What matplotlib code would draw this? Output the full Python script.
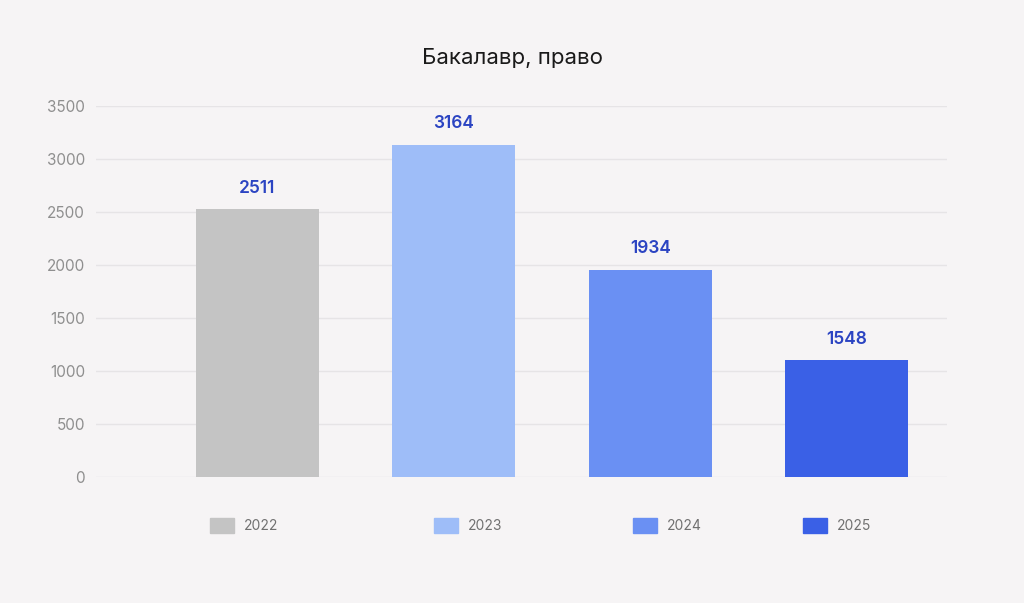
import matplotlib.pyplot as plt
import numpy as np
from matplotlib.patches import Rectangle

# Values
years = ['2022', '2023', '2024', '2025']
bar_heights = [2525, 3135, 1955, 1105]
value_labels = ['2511', '3164', '1934', '1548']
colors = ['#c4c4c4', '#9ebdf8', '#6a90f3', '#3a60e6']
title = 'Бакалавр, право'

plt.rcParams['font.family'] = ['Inter', 'DejaVu Sans']

W, H = 1024, 603
fig = plt.figure(figsize=(W / 100, H / 100), dpi=100)
fig.patch.set_facecolor('#f6f4f5')

# axes box in pixels: x 96..947, y 106..477 (from top)
ax = fig.add_axes([96 / W, 1 - 477 / H, (947 - 96) / W, (477 - 106) / H])
ax.set_facecolor('#f6f4f5')

x = np.arange(len(years))
ax.bar(x, bar_heights, width=0.625, color=colors, zorder=3)

for xi, h, lab in zip(x, bar_heights, value_labels):
    ax.annotate(lab, (xi, h), xytext=(0, 15), textcoords='offset points',
                ha='center', va='center', fontsize=12.5, fontweight='semibold',
                color='#2b44c2', zorder=4)

ax.set_xlim(-0.82, 3.51)
ax.set_ylim(0, 3500)
ax.set_yticks(np.arange(0, 3501, 500))
ax.set_xticks([])
ax.grid(axis='y', color='#e6e4e6', lw=1, zorder=0)
for s in ax.spines.values():
    s.set_visible(False)
ax.tick_params(axis='y', length=0, pad=8, labelsize=11, labelcolor='#8f8f8f')

fig.text(0.5, 1 - 58 / H, title, ha='center', va='center', fontsize=16,
         color='#1a1a1a')

# manual legend (item left edges in pixels)
legend_x = [210, 434, 633, 803]
for lx, yr, c in zip(legend_x, years, colors):
    fig.patches.append(Rectangle((lx / W, 1 - 533 / H), 24 / W, 15 / H,
                                 transform=fig.transFigure, color=c))
    fig.text((lx + 34) / W, 1 - 526 / H, yr, ha='left', va='center',
             fontsize=10, color='#707070')

fig.savefig('out.png', dpi=100, facecolor=fig.get_facecolor())
